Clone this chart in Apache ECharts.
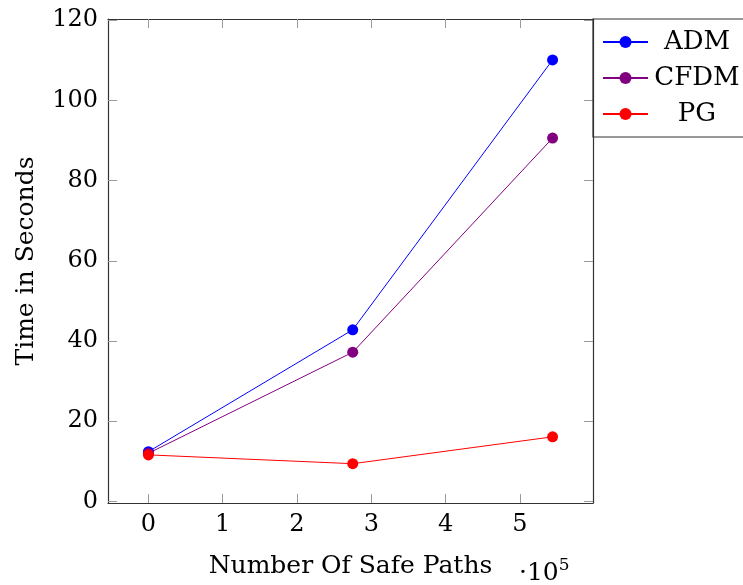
<!DOCTYPE html>
<html><head><meta charset="utf-8">
<script src="https://cdn.jsdelivr.net/npm/echarts@6/dist/echarts.min.js"></script>
<style>html,body{margin:0;padding:0;background:#fff}#c{width:743px;height:585px}</style>
</head><body><div id="c"></div>
<script>
const xValues = [0, 2.75, 5.44];
const admValues = [12.4, 42.8, 110.1];
const cfdmValues = [12.0, 37.2, 90.6];
const pgValues = [11.6, 9.4, 16.1];
const xTicks = [0, 1, 2, 3, 4, 5];
const yTicks = [0, 20, 40, 60, 80, 100, 120];
const seriesNames = ['ADM', 'CFDM', 'PG'];
const seriesColors = ['#0000ff', '#800080', '#ff0000'];
const FONT = 'DejaVu Serif';
const FS = 25;

const chart = echarts.init(document.getElementById('c'), null, {renderer: 'canvas'});
const tickStyle = {show: true, inside: true, length: 9, lineStyle: {color: '#9a9a9a', width: 1}};
const lineStyleAxis = {show: true, onZero: false, lineStyle: {color: '#333', width: 1.2}};
function xAx(pos, labels) {
  return {
    type: 'value', position: pos, min: -0.544, max: 5.984,
    axisLine: lineStyleAxis,
    axisTick: Object.assign({customValues: xTicks}, tickStyle),
    axisLabel: {show: labels, customValues: xTicks, fontFamily: FONT, fontSize: 24, color: '#000', margin: 10},
    splitLine: {show: false},
    name: labels ? 'Number Of Safe Paths' : '', nameLocation: 'middle', nameGap: 51,
    nameTextStyle: {fontFamily: FONT, fontSize: FS, color: '#000'}
  };
}
function yAx(pos, labels) {
  return {
    type: 'value', position: pos, min: -0.4, max: 120.3,
    axisLine: lineStyleAxis,
    axisTick: Object.assign({customValues: yTicks}, tickStyle),
    axisLabel: {show: labels, customValues: yTicks, fontFamily: FONT, fontSize: 24, color: '#000', margin: 10},
    splitLine: {show: false},
    name: labels ? 'Time in Seconds' : '', nameLocation: 'middle', nameGap: 69,
    nameTextStyle: {fontFamily: FONT, fontSize: FS, color: '#000'}
  };
}
const dataSets = [admValues, cfdmValues, pgValues];
const series = seriesNames.map((n, i) => ({
  name: n, type: 'line', xAxisIndex: 0, yAxisIndex: 0,
  data: xValues.map((x, j) => [x, dataSets[i][j]]),
  symbol: 'circle', symbolSize: 11,
  itemStyle: {color: seriesColors[i]},
  lineStyle: {color: seriesColors[i], width: 1},
  animation: false
}));
chart.setOption({
  animation: false,
  grid: {left: 108, right: 150, top: 19, bottom: 82},
  xAxis: [xAx('bottom', true), xAx('top', false)],
  yAxis: [yAx('left', true), yAx('right', false)],
  legend: {
    orient: 'vertical', left: 593, top: 19,
    padding: [9, 20, 9, 9], itemGap: 8,
    itemWidth: 45, itemHeight: 15,
    borderColor: '#333', borderWidth: 1.2, borderRadius: 0,
    data: seriesNames,
    formatter: n => '{c|' + n + '}',
    textStyle: {fontFamily: FONT, fontSize: 26, color: '#000', lineHeight: 28,
      rich: {c: {width: 88, height: 28, align: 'center', fontFamily: FONT, fontSize: 26, lineHeight: 28}}}
  },
  graphic: [{
    type: 'text', left: 519, top: 557,
    style: {text: '{a|·10}{b|5}', rich: {
      a: {fontFamily: FONT, fontSize: FS, fill: '#000', verticalAlign: 'bottom'},
      b: {fontFamily: FONT, fontSize: 17, fill: '#000', verticalAlign: 'top', padding: [0,0,12,0]}
    }}
  }],
  series: series
});
</script></body></html>
